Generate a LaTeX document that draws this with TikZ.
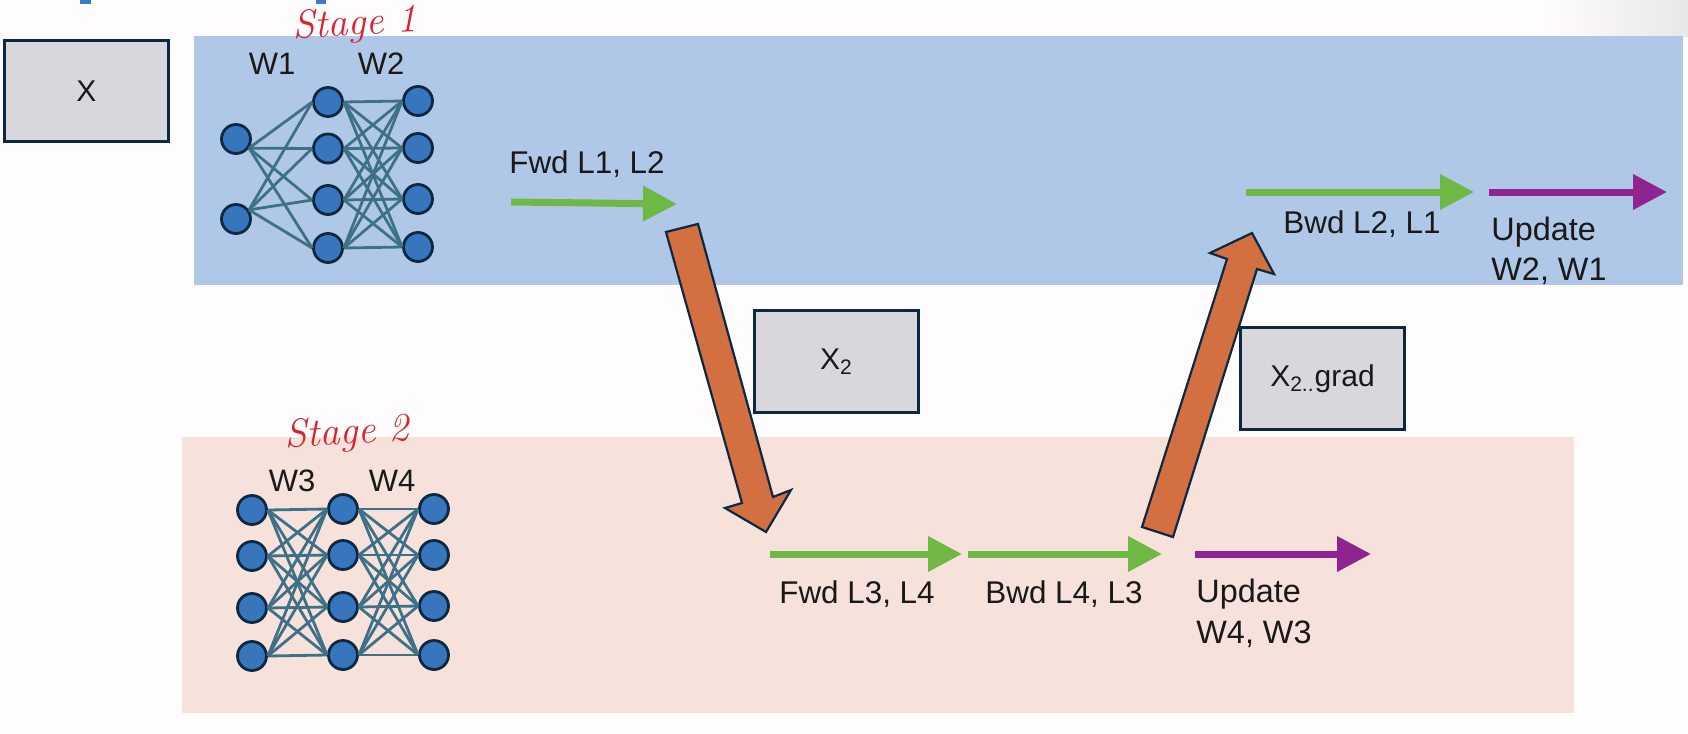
\documentclass[tikz,border=0pt]{standalone}
\usepackage{fontspec}
\setsansfont{Liberation Sans}
\usetikzlibrary{arrows.meta}
\definecolor{bandblue}{HTML}{B0C8E7}
\definecolor{bandpeach}{HTML}{F6E2DA}
\definecolor{boxgray}{HTML}{D8D8DC}
\definecolor{navy}{HTML}{0E2841}
\definecolor{orangefill}{HTML}{D27041}
\definecolor{greenarrow}{HTML}{70B845}
\definecolor{purplearrow}{HTML}{8F2490}
\definecolor{netnode}{HTML}{3775BC}
\definecolor{netedge}{HTML}{3E7188}
\definecolor{tabblue}{HTML}{3B7CC8}
\definecolor{inkred}{HTML}{D9232E}
\tikzset{
  band/.style={fill=#1,draw=none},
  graybox/.style={draw=navy,line width=1.5pt,fill=boxgray,inner sep=0pt,anchor=north west,
    font=\sffamily\fontsize{15}{18}\selectfont,text=black!90},
  lbl/.style={font=\sffamily\fontsize{15.7}{20}\selectfont,text=black!90,inner sep=0pt},
  ulbl/.style={font=\sffamily\fontsize{16.2}{20}\selectfont,text=black!90,inner sep=0pt,anchor=west,align=left},
  wlbl/.style={font=\sffamily\fontsize{15.5}{18}\selectfont,text=black!90,inner sep=0pt},
  nn/.style={circle,draw=navy,line width=1.4pt,fill=netnode,minimum size=14.5pt,inner sep=0pt},
  ne/.style={draw=netedge,line width=1.4pt},
  flow/.style={line width=3.5pt,color=#1,-{Triangle[length=17pt,width=17pt]}},
  block/.style={draw=navy,line width=1.1pt,fill=orangefill,line join=miter},
  hand/.style={font=\rmfamily\itshape\fontsize{20}{24}\selectfont,text=inkred,inner sep=0pt}
}
\begin{document}
\begin{tikzpicture}[x=0.5pt,y=-0.5pt]
\useasboundingbox (0,0) rectangle (1688,734);
\fill[white!99!magenta] (0,0) rectangle (1688,734);
\shade[left color=white!99!magenta,right color=black!9] (1540,0) rectangle (1688,36);
% top fragments
\fill[tabblue] (80,0) rectangle (91,4);
\fill[tabblue] (316,0) rectangle (326,4);
% bands
\path[band=bandblue] (194,36) rectangle (1683,285);
\path[band=bandpeach] (182,437) rectangle (1574,713);
% boxes
\node[graybox,minimum width=82pt,minimum height=50.5pt] (bx) at (3,39) {X};
\node[graybox,minimum width=82pt,minimum height=51pt] (bxtwo) at (753,309) {\raisebox{-1.5pt}{X\textsubscript{2}}};
\node[graybox,minimum width=82pt,minimum height=51pt] (bxgrad) at (1239,326) {\raisebox{-1pt}{X\textsubscript{2..}grad}};
% network 1
\foreach \n/\x/\y in {a1/236/139,a2/236/219,
  b1/328/102,b2/328/148.5,b3/328/200,b4/328/248,
  c1/418/101,c2/418/148,c3/418/199,c4/418/247}
  \node[nn] (\n) at (\x,\y) {};
\foreach \j in {1,2,3,4} {\draw[ne] (a1.-35) -- (b\j.west); \draw[ne] (a2.35) -- (b\j.west);}
\foreach \i in {1,2,3,4} \foreach \j in {1,2,3,4} \draw[ne] (b\i.east) -- (c\j.west);
% network 2
\foreach \n/\x/\y in {d1/252/510,d2/252/556,d3/252/608,d4/252/656,
  e1/343/509,e2/343/555,e3/343/607,e4/343/655,
  f1/434/509,f2/434/555,f3/434/606,f4/434/655}
  \node[nn] (\n) at (\x,\y) {};
\foreach \i in {1,2,3,4} \foreach \j in {1,2,3,4} {\draw[ne] (d\i.east) -- (e\j.west); \draw[ne] (e\i.east) -- (f\j.west);}
% weight labels
\node[wlbl] (w1) at (272,64) {W1};
\node[wlbl] (w2) at (381,64) {W2};
\node[wlbl] (w3) at (292,481) {W3};
\node[wlbl] (w4) at (392,481) {W4};
% handwriting
\node[hand,rotate=3] (s1) at (355,25) {Stage 1};
\node[hand,rotate=3] (s2) at (347,434) {Stage 2};
% block arrows
\draw[block] (666,232) -- (698,224) -- (773,497) -- (791,490) -- (766,532) -- (725,508) -- (742,503) -- cycle;
\draw[block] (1142,527) -- (1173,537) -- (1257,269) -- (1274,274) -- (1252,233) -- (1210,253) -- (1227,259) -- cycle;
% flows
\coordinate (p1) at (511,202); \coordinate (p2) at (677,204);
\coordinate (p3) at (1246,192); \coordinate (p4) at (1474,192);
\coordinate (p5) at (1489,192); \coordinate (p6) at (1667,192);
\coordinate (p7) at (770,554); \coordinate (p8) at (962,554);
\coordinate (p9) at (968,554); \coordinate (p10) at (1162,554);
\coordinate (p11) at (1195,554); \coordinate (p12) at (1371,554);
\draw[flow=greenarrow] (p1) -- (p2);
\draw[flow=greenarrow] (p3) -- (p4);
\draw[flow=purplearrow] (p5) -- (p6);
\draw[flow=greenarrow] (p7) -- (p8);
\draw[flow=greenarrow] (p9) -- (p10);
\draw[flow=purplearrow] (p11) -- (p12);
% labels
\node[lbl] (l1) at (587,164) {Fwd L1, L2};
\node[lbl] (l2) at (1362,224) {Bwd L2, L1};
\node[ulbl] (l3) at (1491,232) {Update};
\node[ulbl] (l4) at (1491,271) {W2, W1};
\node[lbl] (l5) at (857,594) {Fwd L3, L4};
\node[lbl] (l6) at (1064,594) {Bwd L4, L3};
\node[ulbl] (l7) at (1196,594) {Update};
\node[ulbl] (l8) at (1196,634) {W4, W3};
\end{tikzpicture}
\end{document}
